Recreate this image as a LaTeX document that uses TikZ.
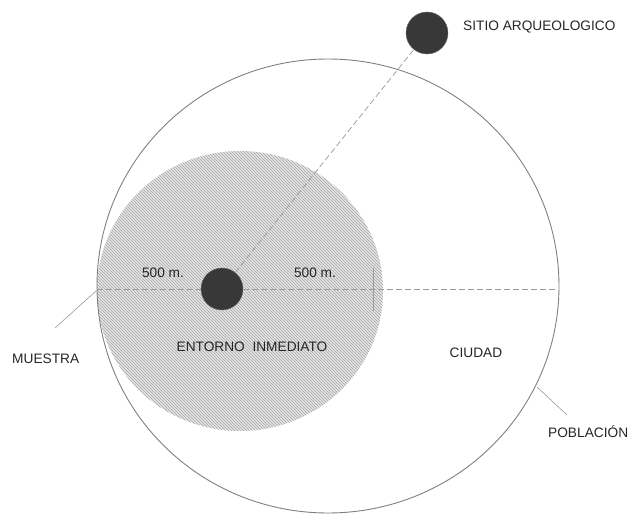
\documentclass[tikz,border=0pt]{standalone}
\usepackage{fontspec}
\setmainfont{Liberation Sans}
\usetikzlibrary{patterns}
\tikzset{
  rotulo/.style={text=black!85, font=\fontsize{13.7}{16}\selectfont, inner sep=0pt},
  punto/.style={circle, fill=black!78, draw=black!60, minimum size=42pt, inner sep=0pt},
  borde/.style={draw=black!50, line width=0.9pt},
  guia/.style={draw=black!40, line width=0.6pt},
  trazo/.style={draw=black!40, line width=0.7pt, dash pattern=on 6pt off 3pt}
}
\begin{document}
\begin{tikzpicture}[x=1pt,y=-1pt]
\useasboundingbox (0,0) rectangle (633,514);

% Entorno inmediato (rayado)
\fill[black!10] (240,291) ellipse [x radius=143, y radius=140];
\fill[pattern=north west lines, pattern color=black!35] (240,291) ellipse [x radius=143, y radius=140];

% Poblacion
\draw[borde] (328,286) ellipse [x radius=231, y radius=227];

% Puntos
\node[punto] (centro) at (222,289) {};
\node[punto] (sitio) at (427,33) {};

% Ejes
\coordinate (izq) at (97,289);
\coordinate (der) at (558,289);
\draw[trazo] (izq) -- (centro);
\draw[trazo] (centro) -- (der);
\draw[trazo] (centro) -- (sitio);

% Marca de los 500 m.
\coordinate (marcaA) at (373,268);
\coordinate (marcaB) at (373,311);
\draw[guia] (marcaA) -- (marcaB);

% Rotulos
\node[rotulo, anchor=west] (titulo) at (463,27) {SITIO ARQUEOLOGICO};
\node[rotulo] (radioA) at (163,273) {500 m.};
\node[rotulo] (radioB) at (315,273) {500 m.};
\node[rotulo] (entorno) at (252,347) {ENTORNO\ \ INMEDIATO};
\node[rotulo] (ciudad) at (476,353) {CIUDAD};
\node[rotulo, anchor=west] (muestra) at (12,359) {MUESTRA};
\node[rotulo, anchor=west] (poblacion) at (548,432) {POBLACIÓN};

% Lineas guia
\coordinate (mA) at (55,328);
\coordinate (mB) at (96,291);
\draw[guia] (mA) -- (mB);
\coordinate (pA) at (537,387);
\coordinate (pB) at (567,415);
\draw[guia] (pA) -- (pB);

\end{tikzpicture}
\end{document}
